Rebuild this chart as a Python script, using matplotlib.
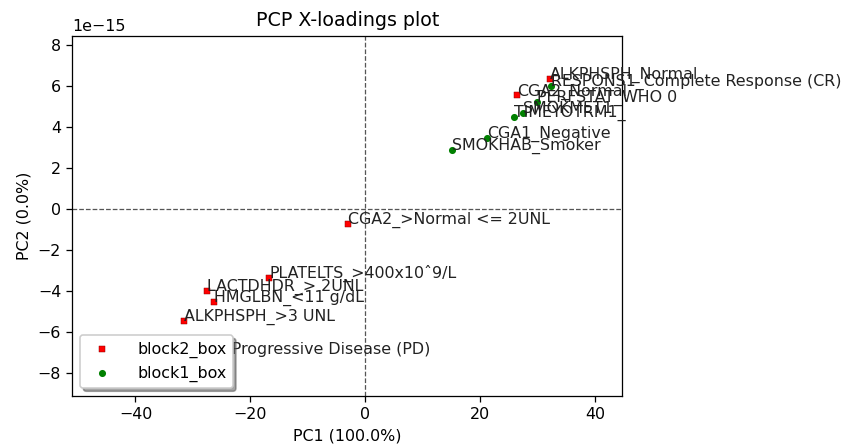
import matplotlib
matplotlib.use("Agg")
import matplotlib.pyplot as plt
import numpy as np

# block2 (red squares)
b2_labels = ["ALKPHSPH_Normal", "CGA2_Normal", "CGA2_>Normal <= 2UNL",
             "PLATELTS_>400x10ˆ9/L", "LACTDHDR_> 2UNL", "HMGLBN_<11 g/dL",
             "ALKPHSPH_>3 UNL"]
b2_x = [32.2, 26.4, -3.0, -16.7, -27.5, -26.4, -31.5]
b2_y = [6.36, 5.55, -0.73, -3.37, -4.0, -4.55, -5.48]

# block1 (green dots)
b1_labels = ["RESPONS1_Complete Response (CR)", "PERFSTAT_WHO 0", "SMOKMET1",
             "TIMEYOTRM1_", "CGA1_Negative", "SMOKHAB_Smoker",
             "RESPONS1_Progressive Disease (PD)"]
b1_x = [32.3, 29.9, 27.4, 25.9, 21.2, 15.1, -39.3]
b1_y = [6.0, 5.25, 4.7, 4.5, 3.47, 2.89, -7.1]

scale = 1e-15
dpi = 114

fig = plt.figure(figsize=(850 / dpi, 448 / dpi), dpi=dpi)
ax = fig.add_axes([0.085, 0.116, 0.647, 0.804])

ax.scatter(b2_x, np.array(b2_y) * scale, marker="s", color="red", s=12,
           edgecolors="darkred", linewidths=0.3, label="block2_box", zorder=3)
ax.scatter(b1_x, np.array(b1_y) * scale, marker="o", color="green", s=12,
           label="block1_box", zorder=3)

for lab, x, y in zip(b2_labels, b2_x, b2_y):
    ax.text(x, y * scale, lab, fontsize=10, color="#222222")
for lab, x, y in zip(b1_labels, b1_x, b1_y):
    ax.text(x, y * scale, lab, fontsize=10, color="#222222")

ax.axhline(0, color="#555555", linestyle="--", linewidth=0.8)
ax.axvline(0, color="#555555", linestyle="--", linewidth=0.8)

ax.set_xlim(-51, 44.7)
ax.set_ylim(-9.14e-15, 8.46e-15)
ax.set_xticks([-40, -20, 0, 20, 40])
ax.set_yticks(np.arange(-8, 9, 2) * scale)

ax.set_title("PCP X-loadings plot")
ax.set_xlabel("PC1 (100.0%)")
ax.set_ylabel("PC2 (0.0%)")

leg = ax.legend(loc="lower left", shadow=True, fancybox=True, framealpha=1,
                handletextpad=1.2)
leg.set_zorder(5)

fig.savefig("out.png", dpi=dpi)
